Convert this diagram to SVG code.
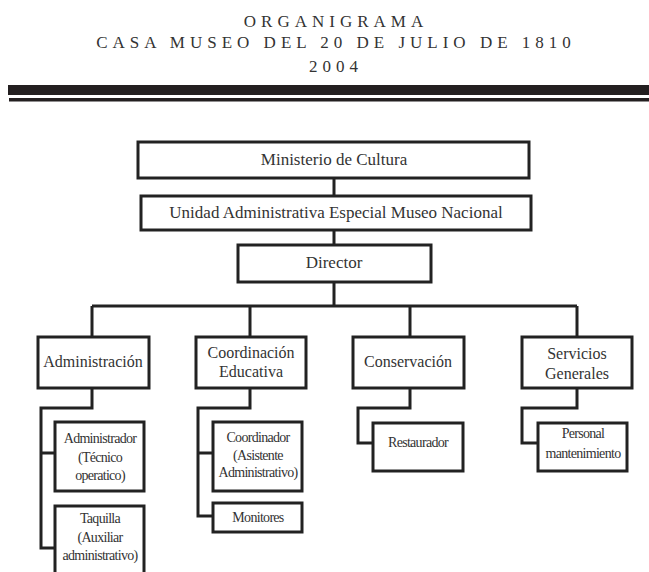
<svg xmlns="http://www.w3.org/2000/svg" width="649" height="572" viewBox="0 0 649 572">
<style>
.box{fill:#fff;stroke:#222;stroke-width:3}
.ln{fill:none;stroke:#222;stroke-width:3;stroke-linejoin:miter}
.t1{font-family:"Liberation Serif",serif;font-size:17px;fill:#333;text-anchor:middle}
.t2{font-family:"Liberation Serif",serif;font-size:16px;fill:#333;text-anchor:middle}
.t3{font-family:"Liberation Serif",serif;font-size:14px;fill:#333;text-anchor:middle;letter-spacing:-0.7px}
.ti{font-family:"Liberation Serif",serif;font-size:17px;fill:#333;text-anchor:middle;letter-spacing:5px}
</style>
<rect width="649" height="572" fill="#fff"/>
<g id="title">
<text class="ti" x="336" y="27">ORGANIGRAMA</text>
<text class="ti" x="336" y="48">CASA MUSEO DEL 20 DE JULIO DE 1810</text>
<text class="ti" x="336" y="72">2004</text>
<rect x="8" y="85" width="641" height="10" fill="#231f20"/>
<rect x="9" y="98" width="640" height="3.5" fill="#231f20"/>
</g>
<g id="connectors">
<path class="ln" d="M334 178V196M334 230V245M334 282V306M92 306H577M92 306V337M250 306V337M410 306V337M577 306V337"/>
<path class="ln" d="M92 388V408H41V548H55M41 453H55"/>
<path class="ln" d="M250 388V408H198V516H213M198 453H213"/>
<path class="ln" d="M410 388V408H358V443H373"/>
<path class="ln" d="M577 388V408H522V443H538"/>
</g>
<g id="ministerio"><rect class="box" x="138" y="142" width="391" height="36"/><text class="t1" x="334" y="165">Ministerio de Cultura</text></g>
<g id="unidad"><rect class="box" x="141" y="196" width="390" height="34"/><text class="t1" x="336" y="218">Unidad Administrativa Especial Museo Nacional</text></g>
<g id="director"><rect class="box" x="238" y="245" width="193" height="37"/><text class="t1" x="334" y="268">Director</text></g>
<g id="administracion"><rect class="box" x="38" y="337" width="111" height="51"/><text class="t2" x="93" y="367">Administración</text></g>
<g id="coordinacion"><rect class="box" x="196" y="337" width="110" height="51"/><text class="t2" x="251" y="358">Coordinación</text><text class="t2" x="251" y="377">Educativa</text></g>
<g id="conservacion"><rect class="box" x="353" y="337" width="111" height="51"/><text class="t2" x="408" y="367">Conservación</text></g>
<g id="servicios"><rect class="box" x="522" y="337" width="110" height="51"/><text class="t2" x="577" y="359">Servicios</text><text class="t2" x="577" y="379">Generales</text></g>
<g id="administrador"><rect class="box" x="55" y="422" width="89" height="69"/><text class="t3" x="100" y="443">Administrador</text><text class="t3" x="100" y="462">(Técnico</text><text class="t3" x="100" y="480">operatico)</text></g>
<g id="taquilla"><rect class="box" x="55" y="506" width="89" height="72"/><text class="t3" x="100" y="523">Taquilla</text><text class="t3" x="100" y="542">(Auxiliar</text><text class="t3" x="100" y="560">administrativo)</text></g>
<g id="coordinador"><rect class="box" x="213" y="422" width="89" height="69"/><text class="t3" x="258" y="442">Coordinador</text><text class="t3" x="258" y="460">(Asistente</text><text class="t3" x="258" y="477">Administrativo)</text></g>
<g id="monitores"><rect class="box" x="213" y="503" width="89" height="29"/><text class="t3" x="258" y="522">Monitores</text></g>
<g id="restaurador"><rect class="box" x="373" y="423" width="90" height="48"/><text class="t3" x="418" y="447">Restaurador</text></g>
<g id="personal"><rect class="box" x="538" y="423" width="89" height="48"/><text class="t3" x="583" y="438">Personal</text><text class="t3" x="583" y="458">mantenimiento</text></g>
</svg>
